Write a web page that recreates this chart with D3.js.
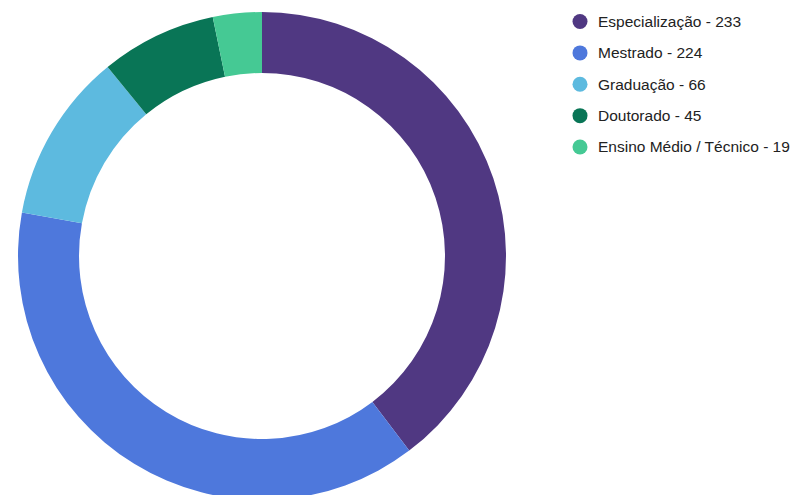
<!DOCTYPE html>
<html><head><meta charset="utf-8">
<script src="https://cdn.jsdelivr.net/npm/d3@7"></script>
<style>body{margin:0;background:#fff;}svg{display:block;font-family:"Liberation Sans",Arial,sans-serif;}</style>
</head><body>
<svg id="c" width="794" height="495"></svg>
<script>
const categories = ["Especialização", "Mestrado", "Graduação", "Doutorado", "Ensino Médio / Técnico"];
const values = [233, 224, 66, 45, 19];
const colors = ["#503882", "#4e78dc", "#5dbadf", "#097556", "#45c994"];

const svg = d3.select("#c");
const cx = 262, cy = 256, rOuter = 244, rInner = 183;
const data = categories.map((c, i) => ({c, v: values[i], col: colors[i]}));
const pie = d3.pie().value(d => d.v).sort(null);
const arc = d3.arc().innerRadius(rInner).outerRadius(rOuter);
svg.append("g").attr("transform", `translate(${cx},${cy})`)
  .selectAll("path").data(pie(data)).join("path")
  .attr("d", arc).attr("fill", d => d.data.col);

const lg = svg.append("g");
const y = d3.scalePoint().domain(categories).range([21.5, 147]);
const items = lg.selectAll("g").data(data).join("g")
  .attr("transform", d => `translate(580,${y(d.c)})`);
items.append("circle").attr("r", 7.5).attr("fill", d => d.col);
items.append("text").attr("x", 18).attr("dy", "0.35em")
  .attr("font-size", 15.5).attr("fill", "#222")
  .text(d => `${d.c} - ${d.v}`);
</script>
</body></html>
